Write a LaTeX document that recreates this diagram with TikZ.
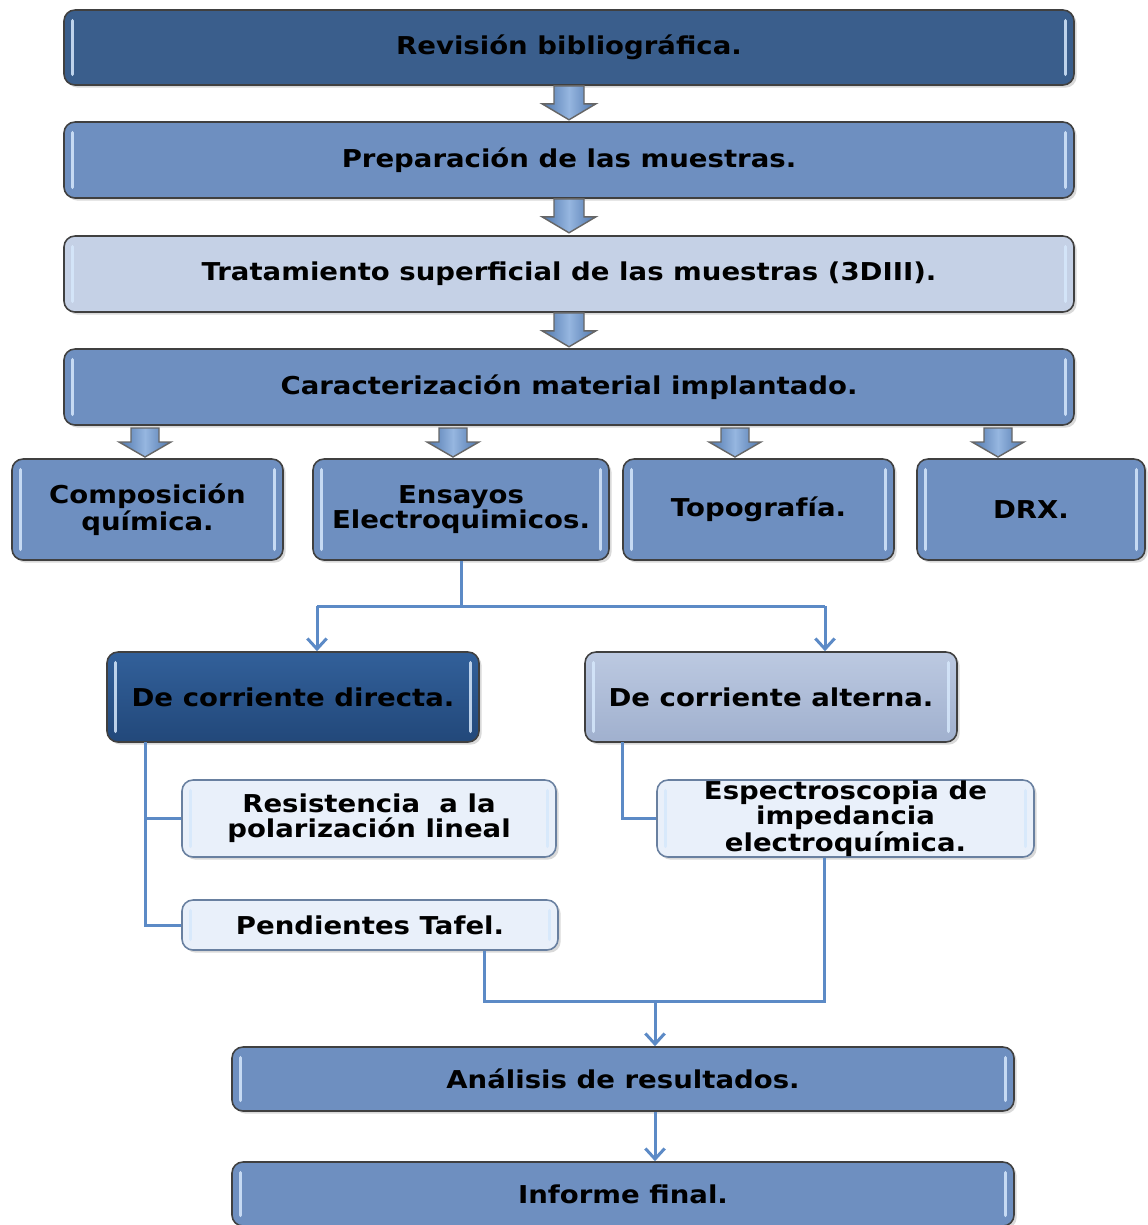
\documentclass[tikz,border=0pt]{standalone}
\usepackage{fontspec}
\setmainfont[FakeStretch=1.12]{DejaVu Sans}
\usepackage{tikz}
\usetikzlibrary{shapes}
\usetikzlibrary{shadows}
\usetikzlibrary{calc}
\usetikzlibrary{arrows.meta}
\usetikzlibrary{positioning}

\definecolor{revblue}{RGB}{58,94,140}
\definecolor{midblue}{RGB}{110,143,192}
\definecolor{paleblue}{RGB}{197,209,230}
\definecolor{dcdtop}{RGB}{50,96,154}
\definecolor{dcdbot}{RGB}{34,72,122}
\definecolor{dcatop}{RGB}{188,201,225}
\definecolor{dcabot}{RGB}{160,176,206}
\definecolor{icefill}{RGB}{233,240,250}
\definecolor{iceline}{RGB}{105,128,160}
\definecolor{connblue}{RGB}{92,138,198}
\definecolor{hilite}{RGB}{214,232,252}
\definecolor{blkdark}{RGB}{78,118,172}
\definecolor{blklight}{RGB}{150,182,224}

\begin{document}
\begin{tikzpicture}[x=0.02cm, y=-0.02cm,
  wh/.style 2 args={minimum width=#1*0.02cm, minimum height=#2*0.02cm},
  box/.style={draw=black!75, line width=0.9pt, rounded corners=0.22cm,
    align=center, inner sep=0pt, text=black,
    font=\bfseries\fontsize{14}{14}\selectfont,
    drop shadow={opacity=0.3, shadow xshift=1.5pt, shadow yshift=-1.5pt},
    path picture={
      \draw[draw=hilite, line width=1.8pt, line cap=round, opacity=0.85]
        ([xshift=5pt,yshift=-6pt]path picture bounding box.north west) --
        ([xshift=5pt,yshift=6pt]path picture bounding box.south west);
      \draw[draw=hilite, line width=1.8pt, line cap=round, opacity=0.85]
        ([xshift=-5pt,yshift=-6pt]path picture bounding box.north east) --
        ([xshift=-5pt,yshift=6pt]path picture bounding box.south east);
    }},
  icebox/.style={box, draw=iceline, fill=icefill},
  conn/.style={draw=connblue, line width=0.06cm},
  arr/.style={conn, -{Straight Barb[length=6pt,width=11pt]}},
  blkarrow/.style={draw=black!60, line width=0.8pt, line join=miter,
    left color=blkdark, right color=blkdark, middle color=blklight},
  bigblk/.pic={\path[blkarrow] (-15,0) -- (15,0) -- (15,18) -- (27,18) -- (0,34)
    -- (-27,18) -- (-15,18) -- cycle;},
  smallblk/.pic={\path[blkarrow] (-14,0) -- (14,0) -- (14,14) -- (26,14) -- (0,29)
    -- (-26,14) -- (-14,14) -- cycle;}
]
\useasboundingbox (0,0) rectangle (1148,1225);

% main column
\node[box, wh={1010}{75}, fill=revblue] (rev) at (569,47.5) {Revisión bibliográfica.};
\node[box, wh={1010}{76}, fill=midblue] (prep) at (569,160) {Preparación de las muestras.};
\node[box, wh={1010}{76}, fill=paleblue] (trat) at (569,274) {Tratamiento superficial de las muestras (3DIII).};
\node[box, wh={1010}{76}, fill=midblue] (car) at (569,387) {Caracterización material implantado.};

\pic at (rev.south) {bigblk};
\pic at (prep.south) {bigblk};
\pic at (trat.south) {bigblk};

% characterisation techniques
\node[box, wh={271}{101}, fill=midblue] (comp) at (147.5,509.5) {Composición\\química.};
\node[box, wh={296}{101}, fill=midblue] (ens) at (461,509.5) {Ensayos\\Electroquimicos.};
\node[box, wh={271}{101}, fill=midblue] (topo) at (758.5,509.5) {Topografía.};
\node[box, wh={228}{101}, fill=midblue] (drx) at (1031,509.5) {DRX.};

\foreach \x in {145,453,735,998}
  \pic at (\x,428) {smallblk};

% electrochemical tests
\node[box, wh={372}{90}, top color=dcdtop, bottom color=dcdbot] (dcd) at (293,697) {De corriente directa.};
\node[box, wh={372}{90}, top color=dcatop, bottom color=dcabot] (dca) at (771,697) {De corriente alterna.};

\coordinate (split) at (461,606);
\coordinate (splitL) at (317,606);
\coordinate (splitR) at (825,606);
\draw[conn] (ens.south) -- (split);
\draw[conn] (splitL) -- (splitR);
\draw[arr] (splitL) -- (splitL |- dcd.north);
\draw[arr] (splitR) -- (splitR |- dca.north);

\node[icebox, wh={374}{77}] (resis) at (369,818.5) {Resistencia~ a la\\polarización lineal};
\node[icebox, wh={376}{50}] (tafel) at (370,925) {Pendientes Tafel.};
\node[icebox, wh={377}{77}, font=\bfseries\fontsize{14}{12.5}\selectfont] (eis) at (845.5,818.5) {Espectroscopia de\\impedancia\\electroquímica.};

\coordinate (trunkL) at (145,742);
\coordinate (trunkR) at (622,742);
\draw[conn] (trunkL) |- (tafel.west);
\draw[conn] (trunkL |- resis.west) -- (resis.west);
\draw[conn] (trunkR) |- (eis.west);

% results
\node[box, wh={782}{64}, fill=midblue] (ana) at (623,1079) {Análisis de resultados.};
\node[box, wh={782}{64}, fill=midblue] (inf) at (623,1194) {Informe final.};

\coordinate (merge) at (655,1003);
\draw[conn] ($(tafel.south)+(114,0)$) -- ++(0,51) -| ($(eis.south)+(-21,0)$);
\draw[arr] (merge) -- (merge |- ana.north);
\draw[arr] (ana.south -| merge) -- (inf.north -| merge);
\end{tikzpicture}
\end{document}
